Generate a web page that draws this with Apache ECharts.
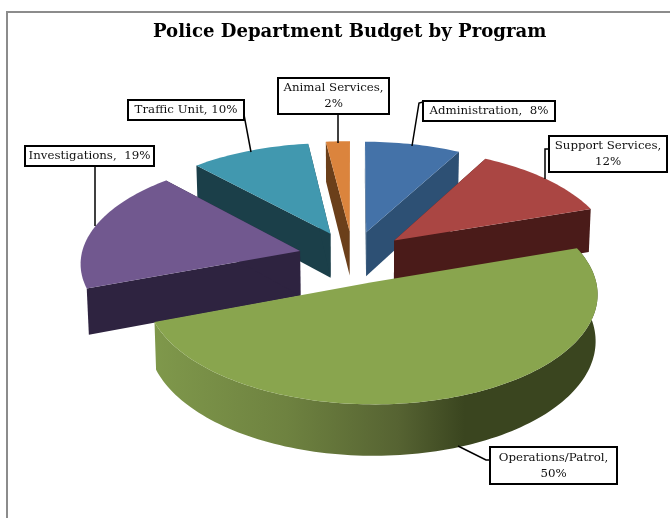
<!DOCTYPE html>
<html><head><meta charset="utf-8">
<style>html,body{margin:0;padding:0;background:#fff}#c{width:670px;height:518px}</style>
<script src="https://cdn.jsdelivr.net/npm/echarts@6/dist/echarts.min.js"></script>
</head><body><div id="c"></div>
<script>
var categories = ['Administration','Support Services','Operations/Patrol','Investigations','Traffic Unit','Animal Services'];
var shares = [8,12,50,19,10,2];
var labelLines = [['Administration,  8%'],['Support Services,','12%'],['Operations/Patrol,','50%'],['Investigations,  19%'],['Traffic Unit, 10%'],['Animal Services,','2%']];

var topColors = ['#4472A8','#AA4643','#89A54E','#71588F','#4198AF','#DB843D'];
var wallColors = ['#2D5074','#4A1B19',null,'#2E2340','#1B3F49','#6B3F1A'];
var greenWall = [[0,'#7F984B'],[0.3,'#6E8240'],[0.55,'#566332'],[0.7,'#3A451F'],[1,'#3A451F']];
var boxes = [[423,101,132,20],[549,136,118,36],[490,447,127,37],[25,146,129,20],[128,100,116,20],[278,78,111,36]];
var leaders = [[[423,102],[419,103],[412,146]],[[549,149],[545,149],[545,179]],[[490,460],[486,460],[458,446]],[[95,166],[95,226]],[[244,115],[251,152]],[[338,114],[338,143]]];

// Camera fitted to the picture
var cam = {vx:353, vy:257, S:219, K:104.4, p:0.101, e:0.25, H:45, conv:0.008};
function proj(X,Y,down){
  var s = 1/(1+cam.p*Y);
  var x = cam.S*X*s;
  return [cam.vx+x*(down?1-cam.conv:1), cam.vy-cam.K*Y*s+(down?cam.H*s:0)];
}
var total = shares.reduce(function(a,b){return a+b},0);
var acc=0;
var slices = shares.map(function(v,i){
  var a0=acc/total*2*Math.PI; acc+=v; var a1=acc/total*2*Math.PI; var m=(a0+a1)/2;
  return {i:i,a0:a0,a1:a1,ox:cam.e*Math.sin(m),oy:cam.e*Math.cos(m)};
});
function arc(sl,down){
  var n=Math.max(6,Math.ceil((sl.a1-sl.a0)*40)),pts=[];
  for(var k=0;k<=n;k++){var a=sl.a0+(sl.a1-sl.a0)*k/n;pts.push(proj(sl.ox+Math.sin(a),sl.oy+Math.cos(a),down));}
  return pts;
}
var order=[5,4,0,1,3,2];
var pieData = categories.map(function(c,i){return {name:c,value:[shares[i],i]}});

function poly(points,fill){return {type:'polygon',shape:{points:points},style:{fill:fill,stroke:null},silent:true};}

function renderItem(params,api){
  var sl=slices[api.value(1)],i=sl.i;
  var t=arc(sl,false),b=arc(sl,true),ap=proj(sl.ox,sl.oy,false),apb=proj(sl.ox,sl.oy,true);
  var wall=wallColors[i],ch=[];
  if(i!==2){
    ch.push(poly([ap,t[0],b[0],apb],wall));
    ch.push(poly([ap,t[t.length-1],b[b.length-1],apb],wall));
  } else {
    var fill=new echarts.graphic.LinearGradient(0,0,1,0,greenWall.map(function(s){return {offset:s[0],color:s[1]}}));
    ch.push(poly(t.concat(b.slice().reverse()),fill));
  }
  ch.push(poly([ap].concat(t),topColors[i]));
  return {type:'group',children:ch};
}

var graphics=[{type:'rect',z:-1,shape:{x:7,y:12,width:700,height:540},style:{fill:'#fff',stroke:'#8C8C8C',lineWidth:2}}];
var FONT='"DejaVu Serif", serif';
leaders.forEach(function(pts){graphics.push({type:'polyline',z:20,shape:{points:pts},style:{stroke:'#000',lineWidth:1.5,fill:null}});});
boxes.forEach(function(b,i){
  graphics.push({type:'rect',z:21,shape:{x:b[0],y:b[1],width:b[2],height:b[3]},style:{fill:'#fff',stroke:'#000',lineWidth:2}});
  graphics.push({type:'text',z:22,style:{x:b[0]+b[2]/2,y:b[1]+b[3]/2,text:labelLines[i].join('\n'),font:'11.8px '+FONT,fill:'#111',align:'center',verticalAlign:'middle',lineHeight:16}});
});

var chart=echarts.init(document.getElementById('c'),null,{renderer:'canvas'});
chart.setOption({
  animation:false,
  title:{text:'Police Department Budget by Program',left:148,top:18,textStyle:{fontFamily:FONT,fontWeight:'bold',fontSize:18.1,color:'#000'}},
  xAxis:{show:false,type:'value'},yAxis:{show:false,type:'value'},
  grid:{left:0,right:0,top:0,bottom:0},
  graphic:graphics,
  series:[{type:'custom',coordinateSystem:'none',renderItem:renderItem,silent:true,
    data:order.map(function(i){return pieData[i]}),encode:{value:[0,1]}}]
});
</script></body></html>
